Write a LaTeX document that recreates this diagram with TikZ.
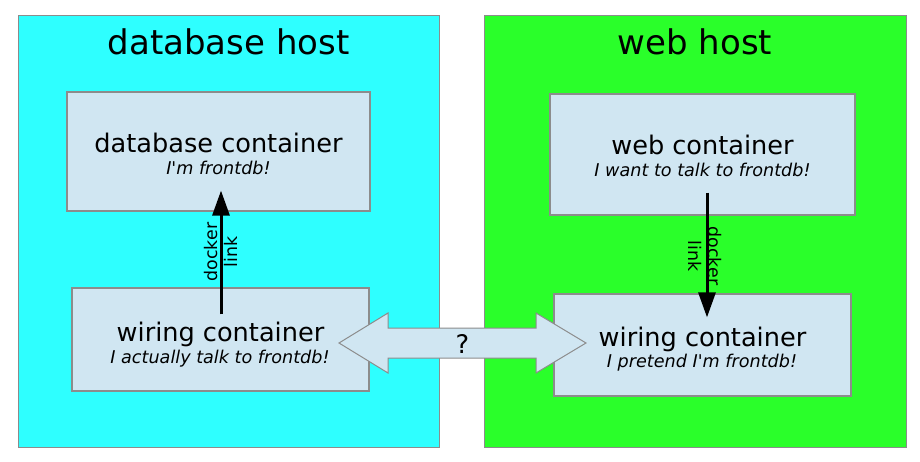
\documentclass[tikz,border=0pt]{standalone}
\usepackage{fontspec}
\setmainfont{DejaVu Sans}
\newfontfamily\dv{DejaVu Sans}
\usetikzlibrary{arrows.meta}
\definecolor{hostcyan}{RGB}{46,255,255}
\definecolor{hostgreen}{RGB}{42,255,42}
\definecolor{boxblue}{RGB}{208,230,242}
\definecolor{edgegray}{RGB}{140,140,140}
\begin{document}
\begin{tikzpicture}[x=1pt,y=-1pt,
  host/.style={draw=edgegray, line width=1pt, inner sep=0pt},
  cont/.style={draw=edgegray, fill=boxblue, line width=1.2pt, inner sep=0pt},
  ttl/.style={font=\dv\fontsize{34}{40}\selectfont, anchor=base, inner sep=0pt},
  maintxt/.style={font=\dv\fontsize{25.6}{30}\selectfont, anchor=base, inner sep=0pt},
  subtxt/.style={font=\dv\itshape\fontsize{17.6}{21}\selectfont, anchor=base, inner sep=0pt},
  linkarrow/.style={-{Triangle[length=25pt,width=17pt]}, line width=3pt},
  linklbl/.style={font=\dv\fontsize{17.4}{20}\selectfont, align=center, inner sep=0pt}]
\useasboundingbox (0,0) rectangle (920,462);
% hosts
\node[host, fill=hostcyan, minimum width=421pt, minimum height=431pt] (dbhost) at (228.5,231.5) {};
\node[host, fill=hostgreen, minimum width=422pt, minimum height=431pt] (webhost) at (695,231.5) {};
\node[ttl] (dbhostT) at (228.5,55) {database host};
\node[ttl] (webhostT) at (695,55) {web host};
% containers
\node[cont, minimum width=303pt, minimum height=119pt] (dbc) at (218.5,151.5) {};
\node[cont, minimum width=305pt, minimum height=121pt] (webc) at (702.5,154.5) {};
\node[cont, minimum width=297pt, minimum height=103pt] (wireL) at (220.5,339.5) {};
\node[cont, minimum width=297pt, minimum height=102pt] (wireR) at (702.5,345) {};
% container texts
\node[maintxt] (dbcT) at (218.5,153) {database container};
\node[subtxt] (dbcS) at (218.5,175) {I'm frontdb!};
\node[maintxt] (webcT) at (702.5,155) {web container};
\node[subtxt] (webcS) at (702.5,177) {I want to talk to frontdb!};
\node[maintxt] (wireLT) at (220.5,341) {wiring container};
\node[subtxt] (wireLS) at (220,363) {I actually talk to frontdb!};
\node[maintxt] (wireRT) at (702.5,346) {wiring container};
\node[subtxt] (wireRS) at (702,367) {I pretend I'm frontdb!};
% double arrow between wiring containers
\draw[draw=edgegray, fill=boxblue, line width=1pt, line join=miter]
  (339,343) -- (388,313) -- (388,328) -- (536,328) -- (536,313) -- (586,343)
  -- (536,373) -- (536,358) -- (388,358) -- (388,373) -- cycle;
\node[maintxt] (q) at (462.5,353) {?};
% docker links
\draw[linkarrow] ([xshift=0.5pt,yshift=-27pt]wireL.north) -- ([xshift=2.5pt,yshift=21pt]dbc.south);
\draw[linkarrow] ([xshift=4.5pt,yshift=23pt]webc.south) -- ([xshift=4.5pt,yshift=-24pt]wireR.north);
\node[linklbl, rotate=90] (lblL) at (221,252) {docker\\link};
\node[linklbl, rotate=-90] (lblR) at (705,256) {docker\\link};
\end{tikzpicture}
\end{document}
